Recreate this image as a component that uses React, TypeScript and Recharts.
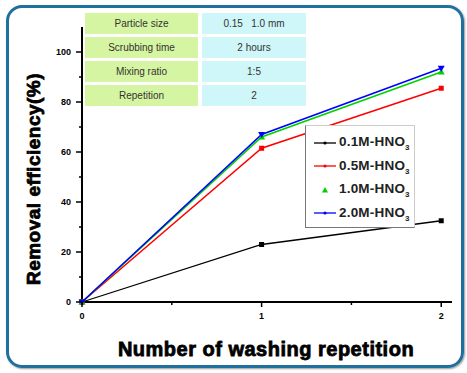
import React from 'react';
import { LineChart, Line, XAxis, YAxis } from 'recharts';

const repetitions = [0, 1, 2];
const hno3_01 = [0, 23, 32.5];
const hno3_05 = [0, 61.5, 85.5];
const hno3_10 = [0, 66, 92];
const hno3_20 = [0, 67, 93.5];

const seriesNames = ['0.1M-HNO', '0.5M-HNO', '1.0M-HNO', '2.0M-HNO'];
const seriesColors = ['#000000', '#ff0000', '#00d000', '#0000ff'];

const yTicks = [0, 10, 20, 30, 40, 50, 60, 70, 80, 90, 100];
const xTicks = [0, 0.5, 1, 1.5, 2];

const tableLabels = ['Particle size', 'Scrubbing time', 'Mixing ratio', 'Repetition'];
const tableValues = ['0.15   1.0 mm', '2 hours', '1:5', '2'];

const font = 'Liberation Sans, Arial, sans-serif';

const data = repetitions.map((r, i) => ({
  rep: r,
  a: hno3_01[i],
  b: hno3_05[i],
  c: hno3_10[i],
  d: hno3_20[i],
}));

const YTick = (props: any) => {
  const { x, y, payload } = props;
  const major = payload.value % 20 === 0;
  return (
    <g>
      <line x1={x} x2={x - (major ? 6 : 3)} y1={y} y2={y} stroke="#000" strokeWidth={1.5} />
      {major && (
        <text x={x - 11} y={y} dy={3} textAnchor="end" fontSize={9} fontFamily={font} fontWeight="bold" fill="#000">
          {payload.value}
        </text>
      )}
    </g>
  );
};

const XTick = (props: any) => {
  const { x, y, payload } = props;
  const major = Number.isInteger(payload.value);
  return (
    <g>
      <line x1={x} x2={x} y1={y} y2={y + (major ? 5 : 3)} stroke="#000" strokeWidth={1.5} />
      {major && (
        <text x={x} y={y + 17} textAnchor="middle" fontSize={9} fontFamily={font} fontWeight="bold" fill="#000">
          {payload.value}
        </text>
      )}
    </g>
  );
};

const square = (color: string) => (props: any) => {
  const { cx, cy, index } = props;
  return <rect key={index} x={cx - 2.5} y={cy - 2.5} width={5} height={5} fill={color} />;
};

const triUp = (color: string) => (props: any) => {
  const { cx, cy, index } = props;
  return <path key={index} d={`M${cx},${cy - 3.5}L${cx + 3.5},${cy + 2.5}L${cx - 3.5},${cy + 2.5}Z`} fill={color} />;
};

const triDown = (color: string) => (props: any) => {
  const { cx, cy, index } = props;
  return <path key={index} d={`M${cx},${cy + 3.5}L${cx + 3.5},${cy - 2.5}L${cx - 3.5},${cy - 2.5}Z`} fill={color} />;
};

const LegendBox = () => (
  <div
    style={{
      position: 'absolute',
      left: 305,
      top: 125,
      width: 108,
      height: 101,
      background: '#fff',
      borderLeft: '1.5px solid #777',
      borderBottom: '1.5px solid #777',
      borderTop: '1px solid #ccc',
      borderRight: '1px solid #ccc',
      fontFamily: font,
      fontWeight: 'bold',
      fontSize: 13.5,
      color: '#222',
    }}
  >
    {seriesNames.map((name, i) => (
      <div key={name} style={{ position: 'absolute', left: 7, top: 8 + i * 23.5, display: 'flex', alignItems: 'center' }}>
        <svg width={24} height={10}>
          {i !== 2 && <line x1={1} x2={23} y1={5} y2={5} stroke={seriesColors[i]} strokeWidth={1.3} />}
          {i === 2 ? (
            <path d="M12,2L15,7.5L9,7.5Z" fill={seriesColors[i]} />
          ) : (
            <circle cx={12} cy={5} r={1.6} fill={seriesColors[i]} />
          )}
        </svg>
        <span style={{ marginLeft: 2, letterSpacing: 0.2 }}>
          {name}
          <sub style={{ fontSize: 8 }}>3</sub>
        </span>
      </div>
    ))}
  </div>
);

const InfoTable = () => (
  <div style={{ position: 'absolute', left: 85, top: 13, fontFamily: font, fontSize: 10, color: '#333' }}>
    {tableLabels.map((label, i) => (
      <div key={label} style={{ display: 'flex', marginBottom: 3 }}>
        <div style={{ width: 113, height: 21, background: '#d6f5a2', textAlign: 'center', lineHeight: '21px' }}>{label}</div>
        <div
          style={{
            width: 104,
            height: 21,
            marginLeft: 4,
            background: '#cff6f8',
            textAlign: 'center',
            lineHeight: '21px',
            whiteSpace: 'pre',
          }}
        >
          {tableValues[i]}
        </div>
      </div>
    ))}
  </div>
);

const labelStyle: React.CSSProperties = {
  position: 'absolute',
  whiteSpace: 'nowrap',
  fontFamily: font,
  fontWeight: 'bold',
  WebkitTextStroke: '0.8px #000',
  color: '#000',
  letterSpacing: 0.5,
};

export default function App() {
  return (
    <div style={{ position: 'absolute', left: 0, top: 0, width: 467, height: 373, background: '#fff' }}>
      <div
        style={{
          position: 'absolute',
          left: 6,
          top: 5,
          width: 452,
          height: 357,
          border: '3px solid #1f6f9f',
          borderRadius: 16,
          boxShadow: '1px 1px 2px #999',
        }}
      />
      <LineChart
        width={467}
        height={373}
        data={data}
        margin={{ top: 27, right: 15, bottom: 41, left: 0 }}
        style={{ position: 'absolute', left: 0, top: 0 }}
      >
        <XAxis
          dataKey="rep"
          type="number"
          domain={[0, 2.06]}
          ticks={xTicks}
          interval={0}
          height={30}
          tickSize={0}
          tickMargin={0}
          tickLine={false}
          tick={<XTick />}
          axisLine={{ stroke: '#000', strokeWidth: 2 }}
        />
        <YAxis
          type="number"
          domain={[0, 110]}
          ticks={yTicks}
          interval={0}
          width={82}
          tickSize={0}
          tickMargin={0}
          tickLine={false}
          tick={<YTick />}
          axisLine={{ stroke: '#000', strokeWidth: 2 }}
        />
        <Line dataKey="a" stroke={seriesColors[0]} strokeWidth={1.3} dot={square(seriesColors[0])} isAnimationActive={false} />
        <Line dataKey="b" stroke={seriesColors[1]} strokeWidth={1.5} dot={square(seriesColors[1])} isAnimationActive={false} />
        <Line dataKey="c" stroke={seriesColors[2]} strokeWidth={1.5} dot={triUp(seriesColors[2])} isAnimationActive={false} />
        <Line dataKey="d" stroke={seriesColors[3]} strokeWidth={1.5} dot={triDown(seriesColors[3])} isAnimationActive={false} />
      </LineChart>
      <InfoTable />
      <LegendBox />
      <div style={{ ...labelStyle, left: 34, top: 179, fontSize: 19, transform: 'translate(-50%, -50%) rotate(-90deg)' }}>
        Removal efficiency(%)
      </div>
      <div style={{ ...labelStyle, left: 266, top: 349, fontSize: 20, transform: 'translate(-50%, -50%)' }}>
        Number of washing repetition
      </div>
    </div>
  );
}
